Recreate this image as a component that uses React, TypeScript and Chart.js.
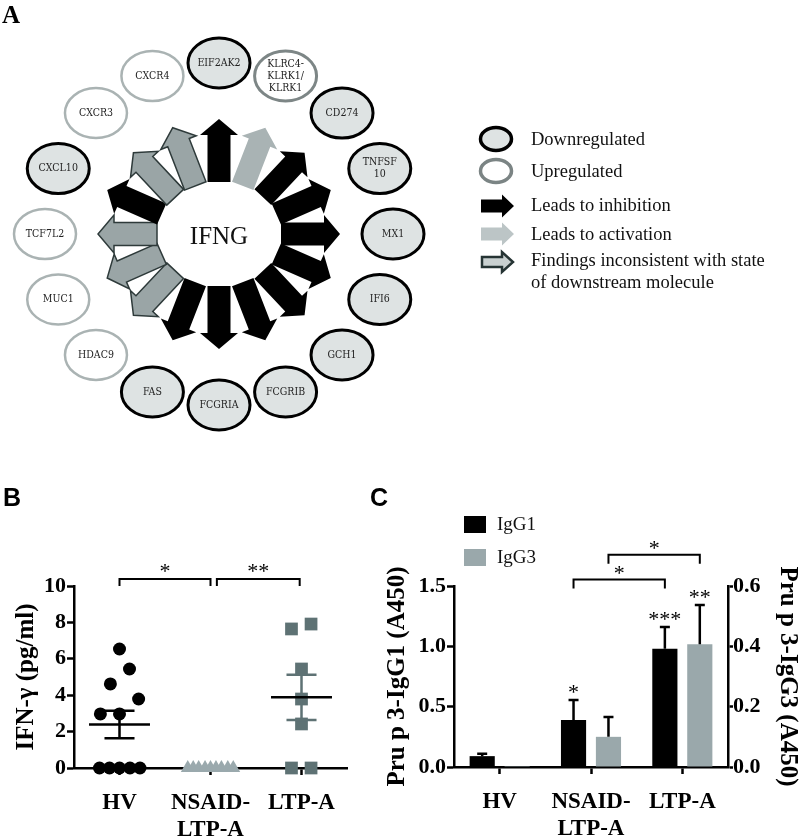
import React, { useEffect, useRef } from 'react';
import { Chart, registerables } from 'chart.js';

Chart.register(...registerables);

const SERIF = '"Liberation Serif", "Times New Roman", serif';
const SANS = '"Liberation Sans", Arial, sans-serif';
const NODE_FONT = '"DejaVu Serif Condensed", "DejaVu Serif", serif';

// ---------------- Panel A data ----------------
const hubGene = 'IFNG';
const targetGenes = [
  'EIF2AK2', 'KLRC4-\nKLRK1/\nKLRK1', 'CD274', 'TNFSF\n10', 'MX1', 'IFI6', 'GCH1', 'FCGRIB',
  'FCGRIA', 'FAS', 'HDAC9', 'MUC1', 'TCF7L2', 'CXCL10', 'CXCR3', 'CXCR4',
];
const targetRegulation = [
  'down', 'up', 'down', 'down', 'down', 'down', 'down', 'down',
  'down', 'down', 'up', 'up', 'up', 'down', 'up', 'up',
];
const targetEffect = [
  'inhibition', 'activation', 'inhibition', 'inhibition', 'inhibition', 'inhibition', 'inhibition', 'inhibition',
  'inhibition', 'inhibition', 'inconsistent', 'inconsistent', 'inconsistent', 'inhibition', 'inconsistent', 'inconsistent',
];
const legendLabelsA = [
  'Downregulated',
  'Upregulated',
  'Leads to inhibition',
  'Leads to activation',
  'Findings inconsistent with state\nof downstream molecule',
];

// ---------------- Panel B data ----------------
const bCategories = ['HV', ['NSAID-', 'LTP-A'], 'LTP-A'];
const bCenters = [1, 2, 3];
const bYTicks = [0, 2, 4, 6, 8, 10];
const hvIfng = [6.54, 5.44, 4.62, 3.79, 2.97, 2.97, 0, 0, 0, 0, 0];
const hvJitter = [1.0, 1.11, 0.9, 1.21, 0.79, 1.0, 0.78, 0.89, 1.0, 1.115, 1.225];
const nsaidIfng = [0, 0, 0, 0, 0, 0, 0, 0, 0];
const nsaidJitter = [1.75, 1.81, 1.87, 1.94, 2.0, 2.06, 2.12, 2.19, 2.25];
const ltpIfng = [7.64, 7.91, 5.44, 3.79, 2.42, 0, 0];
const ltpJitter = [2.89, 3.105, 3.0, 3.0, 3.0, 2.89, 3.105];
const bBrackets = [
  { from: 1.0, to: 2.0, label: '*' },
  { from: 2.07, to: 2.98, label: '**' },
];

// ---------------- Panel C data ----------------
const cCategories = ['HV', ['NSAID-', 'LTP-A'], 'LTP-A'];
const igg1Mean = [0.09, 0.39, 0.98];
const igg1Sem = [0.02, 0.165, 0.18];
const igg3Mean = [0.003, 0.1, 0.407];
const igg3Sem = [0, 0.066, 0.13];
const igg1Stars = ['', '*', '***'];
const igg3Stars = ['', '', '**'];
const cBrackets = [
  { dataset: 0, from: 1, to: 2, level: 1.553, label: '*' },
  { dataset: 1, from: 1, to: 2, level: 1.76, label: '*' },
];

// ---------------- styles ----------------
const nodeStyle: any = {
  down: { fill: '#dee3e3', stroke: '#000000', lw: 3 },
  up: { fill: '#ffffff', stroke: '#aab3b3', lw: 2.5 },
};
const arrowStyle: any = {
  inhibition: { fill: '#000000' },
  activation: { fill: '#a9b3b4' },
  inconsistent: { fill: '#9aa5a6', stroke: '#2e3a3a', lw: 1.5 },
};

function drawBlockArrow(ctx: CanvasRenderingContext2D, bx: number, by: number, tx: number, ty: number,
  hw: number, hh: number, hl: number, fill: string, stroke?: string, lw?: number) {
  const dx = tx - bx, dy = ty - by;
  const L = Math.hypot(dx, dy);
  const ux = dx / L, uy = dy / L;
  const nx = -uy, ny = ux;
  const hx = tx - ux * hl, hy = ty - uy * hl;
  ctx.beginPath();
  ctx.moveTo(bx + nx * hw, by + ny * hw);
  ctx.lineTo(hx + nx * hw, hy + ny * hw);
  ctx.lineTo(hx + nx * hh, hy + ny * hh);
  ctx.lineTo(tx, ty);
  ctx.lineTo(hx - nx * hh, hy - ny * hh);
  ctx.lineTo(hx - nx * hw, hy - ny * hw);
  ctx.lineTo(bx - nx * hw, by - ny * hw);
  ctx.closePath();
  ctx.fillStyle = fill;
  ctx.fill();
  if (stroke) {
    ctx.strokeStyle = stroke;
    ctx.lineWidth = lw || 1.5;
    ctx.lineJoin = 'miter';
    ctx.stroke();
  }
}

function ellipse(ctx: CanvasRenderingContext2D, x: number, y: number, rx: number, ry: number, fill: string, stroke: string, lw: number) {
  ctx.beginPath();
  ctx.ellipse(x, y, rx, ry, 0, 0, Math.PI * 2);
  ctx.fillStyle = fill;
  ctx.fill();
  ctx.strokeStyle = stroke;
  ctx.lineWidth = lw;
  ctx.stroke();
}

// ---------------- Panel A chart ----------------
function buildA(): any {
  const n = targetGenes.length;
  const nodePositions = targetGenes.map((_, i) => {
    const a = ((90 - (i * 360) / n) * Math.PI) / 180;
    return { x: 174 * Math.cos(a), y: 171 * Math.sin(a) };
  });
  const plugin = {
    id: 'networkA',
    afterDatasetsDraw(chart: any) {
      const { ctx } = chart;
      const xs = chart.scales.x, ys = chart.scales.y;
      ctx.save();
      // arrows from hub
      targetEffect.forEach((eff, i) => {
        const a = ((90 - (i * 360) / n) * Math.PI) / 180;
        const bx = xs.getPixelForValue(62 * Math.cos(a));
        const by = ys.getPixelForValue(52 * Math.sin(a));
        const tx = xs.getPixelForValue(121 * Math.cos(a));
        const ty = ys.getPixelForValue(115 * Math.sin(a));
        const st = arrowStyle[eff];
        drawBlockArrow(ctx, bx, by, tx, ty, 11.5, 19, 16, st.fill, st.stroke, st.lw);
      });
      // hub label
      ctx.fillStyle = '#111';
      ctx.font = `25px ${SERIF}`;
      ctx.textAlign = 'center';
      ctx.textBaseline = 'middle';
      ctx.fillText(hubGene, xs.getPixelForValue(0), ys.getPixelForValue(-3));
      // nodes
      const meta = chart.getDatasetMeta(0);
      meta.data.forEach((pt: any, i: number) => {
        const st = nodeStyle[targetRegulation[i]];
        let stroke = st.stroke;
        let lw = st.lw;
        if (targetRegulation[i] === 'up' && targetEffect[i] === 'activation') { stroke = '#7d8686'; lw = 3; }
        ellipse(ctx, pt.x, pt.y, 31, 25, st.fill, stroke, lw);
        const lines = targetGenes[i].split('\n');
        ctx.fillStyle = '#222';
        ctx.font = `10.5px ${NODE_FONT}`;
        ctx.textAlign = 'center';
        ctx.textBaseline = 'middle';
        const lh = 12;
        lines.forEach((ln, k) => {
          ctx.fillText(ln, pt.x, pt.y + (k - (lines.length - 1) / 2) * lh);
        });
      });
      // legend
      ellipse(ctx, 496, 139, 15.5, 11.5, nodeStyle.down.fill, '#000', 3.5);
      ellipse(ctx, 496, 171, 15.5, 11.5, '#fff', '#7b8484', 3.5);
      drawBlockArrow(ctx, 481, 206, 514, 206, 6.5, 11.5, 12, '#000');
      drawBlockArrow(ctx, 481, 234, 514, 234, 6.5, 11.5, 12, '#bcc5c6');
      drawBlockArrow(ctx, 482, 262, 513, 262, 5, 10, 11, '#c9d0d0', '#263434', 2.5);
      ctx.fillStyle = '#111';
      ctx.font = `18.5px ${SERIF}`;
      ctx.textAlign = 'left';
      ctx.textBaseline = 'middle';
      const ly = [140, 172, 206, 235, 261];
      legendLabelsA.forEach((lab, i) => {
        lab.split('\n').forEach((ln, k) => ctx.fillText(ln, 531, ly[i] + k * 22));
      });
      // panel letter
      ctx.fillStyle = '#000';
      ctx.font = `bold 25px ${SERIF}`;
      ctx.textBaseline = 'alphabetic';
      ctx.fillText('A', 2, 23);
      ctx.restore();
    },
  };
  return {
    type: 'scatter',
    data: { datasets: [{ label: 'targets', data: nodePositions, pointRadius: 0 }] },
    options: {
      responsive: false,
      animation: false,
      events: [],
      layout: { padding: 0 },
      plugins: { legend: { display: false }, tooltip: { enabled: false } },
      scales: {
        x: { type: 'linear', min: -219, max: 581, display: false },
        y: { type: 'linear', min: -246, max: 234, display: false },
      },
    },
    plugins: [plugin],
  };
}

function axisCommon(tickLen: number) {
  return {
    grid: { drawOnChartArea: false, drawTicks: true, tickLength: tickLen, tickWidth: 2.5, tickColor: '#000' },
    border: { display: true, color: '#000', width: 2.5 },
  };
}

function starBaseline(visualCenter: number, size: number) {
  return visualCenter + size * 0.5;
}

// ---------------- Panel B chart ----------------
function buildB(): any {
  const groups = [
    { vals: hvIfng, xs: hvJitter, center: bCenters[0], err: '#000' },
    { vals: nsaidIfng, xs: nsaidJitter, center: bCenters[1], err: '#9aa9ad' },
    { vals: ltpIfng, xs: ltpJitter, center: bCenters[2], err: '#5e7274' },
  ];
  const plugin = {
    id: 'scatterStatsB',
    afterDatasetsDraw(chart: any) {
      const { ctx } = chart;
      const xs = chart.scales.x, ys = chart.scales.y;
      ctx.save();
      groups.forEach((g) => {
        const nn = g.vals.length;
        const mean = g.vals.reduce((s, v) => s + v, 0) / nn;
        if (mean <= 0) return;
        const sd = Math.sqrt(g.vals.reduce((s, v) => s + (v - mean) ** 2, 0) / (nn - 1));
        const sem = sd / Math.sqrt(nn);
        const cx = xs.getPixelForValue(g.center);
        const yHi = ys.getPixelForValue(mean + sem);
        const yLo = ys.getPixelForValue(mean - sem);
        const capL = xs.getPixelForValue(g.center - 0.165), capR = xs.getPixelForValue(g.center + 0.165);
        ctx.strokeStyle = g.err;
        ctx.lineWidth = 2.5;
        ctx.beginPath();
        ctx.moveTo(cx, yHi); ctx.lineTo(cx, yLo);
        ctx.moveTo(capL, yHi); ctx.lineTo(capR, yHi);
        ctx.moveTo(capL, yLo); ctx.lineTo(capR, yLo);
        ctx.stroke();
        const ym = ys.getPixelForValue(mean);
        ctx.strokeStyle = '#000';
        ctx.beginPath();
        ctx.moveTo(xs.getPixelForValue(g.center - 0.335), ym);
        ctx.lineTo(xs.getPixelForValue(g.center + 0.335), ym);
        ctx.stroke();
      });
      // significance brackets
      ctx.strokeStyle = '#000';
      ctx.lineWidth = 2;
      ctx.fillStyle = '#000';
      ctx.font = `22px ${SERIF}`;
      ctx.textAlign = 'center';
      ctx.textBaseline = 'alphabetic';
      bBrackets.forEach((b) => {
        const x1 = xs.getPixelForValue(b.from), x2 = xs.getPixelForValue(b.to);
        const yTop = ys.getPixelForValue(10.38), yBot = ys.getPixelForValue(10);
        ctx.beginPath();
        ctx.moveTo(x1, yBot); ctx.lineTo(x1, yTop); ctx.lineTo(x2, yTop); ctx.lineTo(x2, yBot);
        ctx.stroke();
        ctx.fillText(b.label, (x1 + x2) / 2, starBaseline(yTop - 12, 22));
      });
      ctx.font = `bold 25px ${SANS}`;
      ctx.textAlign = 'left';
      ctx.fillText('B', 3, 26);
      ctx.restore();
    },
  };
  const pts = (vals: number[], xsArr: number[]) => vals.map((v, i) => ({ x: xsArr[i], y: v }));
  return {
    type: 'scatter',
    data: {
      datasets: [
        { label: 'HV', data: pts(hvIfng, hvJitter), pointStyle: 'circle', pointRadius: 6.5, backgroundColor: '#000', borderWidth: 0, clip: false },
        { label: 'NSAID-LTP-A', data: pts(nsaidIfng, nsaidJitter), pointStyle: 'triangle', pointRadius: 8, backgroundColor: '#9aa9ad', borderWidth: 0, clip: false },
        { label: 'LTP-A', data: pts(ltpIfng, ltpJitter), pointStyle: 'rect', pointRadius: 9, backgroundColor: '#5e7274', borderWidth: 0, clip: false },
      ],
    },
    options: {
      responsive: false,
      animation: false,
      events: [],
      layout: { padding: { top: 106, right: 53, left: 0, bottom: 0 } },
      plugins: { legend: { display: false }, tooltip: { enabled: false } },
      scales: {
        x: {
          type: 'linear', min: 0.5, max: 3.5,
          afterBuildTicks: (s: any) => { s.ticks = bCenters.map((v) => ({ value: v })); },
          ticks: {
            callback: (_v: any, i: number) => bCategories[i],
            font: { family: SERIF, size: 23, weight: 'bold', lineHeight: 1.2 },
            color: '#000', padding: 14, autoSkip: false, maxRotation: 0, minRotation: 0,
          },
          ...axisCommon(7),
          afterFit: (s: any) => { s.height = 69; },
        },
        y: {
          type: 'linear', min: bYTicks[0], max: bYTicks[bYTicks.length - 1],
          afterBuildTicks: (s: any) => { s.ticks = bYTicks.map((v) => ({ value: v })); },
          ticks: { font: { family: SERIF, size: 22, weight: 'bold' }, color: '#000', padding: 1 },
          ...axisCommon(7),
          title: {
            display: true, text: 'IFN-γ (pg/ml)', color: '#000',
            font: { family: SERIF, size: 25, weight: 'bold', lineHeight: 1 },
            padding: { top: 14.5, bottom: 0 },
          },
          afterFit: (s: any) => { s.width = 74; },
        },
      },
    },
    plugins: [plugin],
  };
}

// ---------------- Panel C chart ----------------
function buildC(): any {
  const sems = [igg1Sem, igg3Sem];
  const stars = [igg1Stars, igg3Stars];
  const plugin = {
    id: 'barExtrasC',
    afterDatasetsDraw(chart: any) {
      const { ctx, chartArea } = chart;
      ctx.save();
      ctx.strokeStyle = '#000';
      ctx.fillStyle = '#000';
      chart.data.datasets.forEach((ds: any, di: number) => {
        const meta = chart.getDatasetMeta(di);
        const ys = chart.scales[ds.yAxisID];
        meta.data.forEach((bar: any, i: number) => {
          const m = ds.data[i];
          const e = sems[di][i];
          const yTop = ys.getPixelForValue(m + e);
          if (e > 0) {
            const yBase = ys.getPixelForValue(m);
            ctx.lineWidth = 2.5;
            ctx.beginPath();
            ctx.moveTo(bar.x, yBase); ctx.lineTo(bar.x, yTop);
            ctx.moveTo(bar.x - 5, yTop); ctx.lineTo(bar.x + 5, yTop);
            ctx.stroke();
          }
          if (stars[di][i]) {
            ctx.font = `22px ${SERIF}`;
            ctx.textAlign = 'center';
            ctx.textBaseline = 'alphabetic';
            ctx.fillText(stars[di][i], bar.x, starBaseline(yTop - 12.5, 22));
          }
        });
      });
      // brackets
      const yl = chart.scales.y;
      cBrackets.forEach((b) => {
        const meta = chart.getDatasetMeta(b.dataset);
        const x1 = meta.data[b.from].x, x2 = meta.data[b.to].x;
        const yTop = yl.getPixelForValue(b.level);
        const yBot = yTop + 9;
        ctx.lineWidth = 2;
        ctx.beginPath();
        ctx.moveTo(x1, yBot); ctx.lineTo(x1, yTop); ctx.lineTo(x2, yTop); ctx.lineTo(x2, yBot);
        ctx.stroke();
        ctx.font = `22px ${SERIF}`;
        ctx.textAlign = 'center';
        ctx.textBaseline = 'alphabetic';
        ctx.fillText(b.label, (x1 + x2) / 2, starBaseline(yTop - 11, 22));
      });
      // legend
      chart.data.datasets.forEach((ds: any, di: number) => {
        const top = chartArea.top - 70 + di * 33;
        ctx.fillStyle = ds.backgroundColor;
        ctx.fillRect(chartArea.left + 10, top, 22, 17);
        ctx.fillStyle = '#111';
        ctx.font = `19px ${SERIF}`;
        ctx.textAlign = 'left';
        ctx.textBaseline = 'middle';
        ctx.fillText(ds.label, chartArea.left + 43, top + 9);
      });
      ctx.fillStyle = '#000';
      ctx.font = `bold 25px ${SANS}`;
      ctx.textAlign = 'left';
      ctx.textBaseline = 'alphabetic';
      ctx.fillText('C', 10, 26);
      ctx.restore();
    },
  };
  const tickFont = { family: SERIF, size: 22, weight: 'bold' };
  const titleFont = { family: SERIF, size: 25, weight: 'bold', lineHeight: 1 };
  return {
    type: 'bar',
    data: {
      labels: cCategories,
      datasets: [
        { label: 'IgG1', data: igg1Mean, yAxisID: 'y', backgroundColor: '#000000', categoryPercentage: 0.765, barPercentage: 0.72 },
        { label: 'IgG3', data: igg3Mean, yAxisID: 'y1', backgroundColor: '#9aa8ab', categoryPercentage: 0.765, barPercentage: 0.72 },
      ],
    },
    options: {
      responsive: false,
      animation: false,
      events: [],
      layout: { padding: { top: 106, left: 0, right: 0, bottom: 0 } },
      plugins: { legend: { display: false }, tooltip: { enabled: false } },
      scales: {
        x: {
          ticks: { font: { family: SERIF, size: 23, weight: 'bold', lineHeight: 1.2 }, color: '#000', padding: 14, autoSkip: false, maxRotation: 0, minRotation: 0 },
          grid: { offset: false, drawOnChartArea: false, drawTicks: true, tickLength: 7, tickWidth: 2.5, tickColor: '#000' },
          border: { display: true, color: '#000', width: 2.5 },
          afterFit: (s: any) => { s.height = 70; },
        },
        y: {
          position: 'left', min: 0, max: 1.5,
          ticks: { stepSize: 0.5, callback: (v: any) => Number(v).toFixed(1), font: tickFont, color: '#000', padding: 1 },
          ...axisCommon(7),
          title: { display: true, text: 'Pru p 3-IgG1 (A450)', color: '#000', font: titleFont, padding: { top: 25.5, bottom: 0 } },
          afterFit: (s: any) => { s.width = 94; },
        },
        y1: {
          position: 'right', min: 0, max: 0.6,
          ticks: { stepSize: 0.2, callback: (v: any) => Number(v).toFixed(1), font: tickFont, color: '#000', padding: 0 },
          ...axisCommon(5),
          title: { display: true, text: 'Pru p 3-IgG3 (A450)', color: '#000', font: titleFont, padding: { top: 0, bottom: 0 } },
          afterFit: (s: any) => { s.width = 72; },
        },
      },
    },
    plugins: [plugin],
  };
}

export default function App() {
  const aRef = useRef<HTMLCanvasElement>(null);
  const bRef = useRef<HTMLCanvasElement>(null);
  const cRef = useRef<HTMLCanvasElement>(null);
  useEffect(() => {
    const charts = [
      new Chart(aRef.current as HTMLCanvasElement, buildA()),
      new Chart(bRef.current as HTMLCanvasElement, buildB()),
      new Chart(cRef.current as HTMLCanvasElement, buildC()),
    ];
    return () => charts.forEach((c) => c.destroy());
  }, []);
  return (
    <div style={{ position: 'absolute', left: 0, top: 0, width: 800, height: 837, background: '#fff', overflow: 'hidden' }}>
      <canvas ref={aRef} width={800} height={480} style={{ position: 'absolute', left: 0, top: 0, width: 800, height: 480 }} />
      <canvas ref={bRef} width={400} height={357} style={{ position: 'absolute', left: 0, top: 480, width: 400, height: 357 }} />
      <canvas ref={cRef} width={440} height={357} style={{ position: 'absolute', left: 360, top: 480, width: 440, height: 357 }} />
    </div>
  );
}
